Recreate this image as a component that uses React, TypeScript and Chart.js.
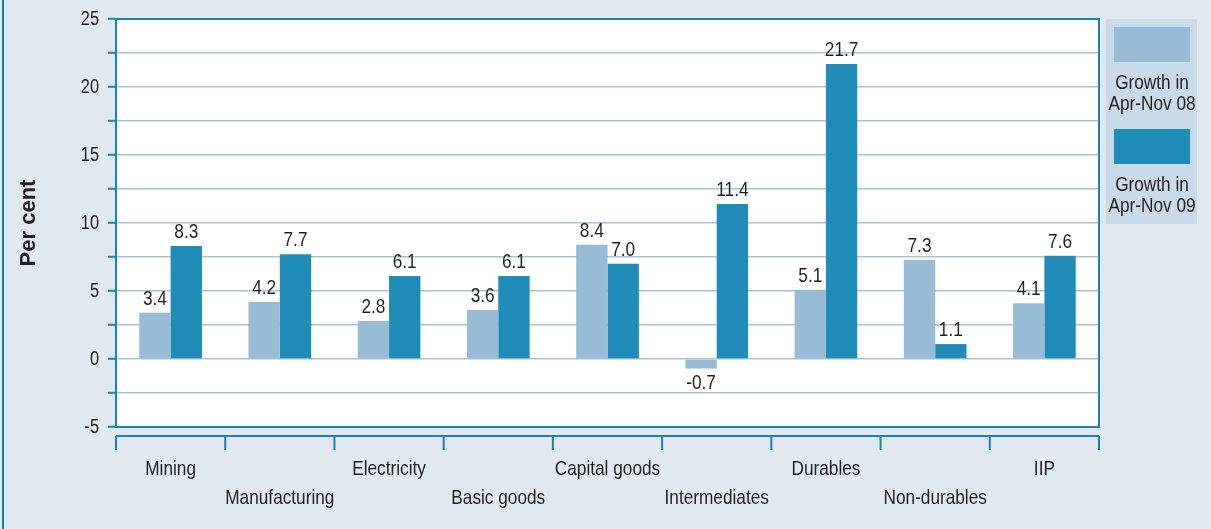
import React, { useEffect, useRef } from "react";
import { Chart, registerables } from "chart.js";

Chart.register(...registerables);

const categories = [
  "Mining",
  "Manufacturing",
  "Electricity",
  "Basic goods",
  "Capital goods",
  "Intermediates",
  "Durables",
  "Non-durables",
  "IIP",
];
const growth08 = [3.4, 4.2, 2.8, 3.6, 8.4, -0.7, 5.1, 7.3, 4.1];
const growth09 = [8.3, 7.7, 6.1, 6.1, 7.0, 11.4, 21.7, 1.1, 7.6];
const series08Label = ["Growth in", "Apr-Nov 08"];
const series09Label = ["Growth in", "Apr-Nov 09"];
const yAxisTitle = "Per cent";

const FONT = "'Liberation Sans', Arial, Helvetica, sans-serif";
const SQUEEZE = 0.82;
const BG = "#e0e8f0";
const LIGHT = "#98bbd6";
const DARK = "#208db8";
const AXIS = "#1b82b2";
const GRID = "#a6c3da";
const TEXT = "#231f20";

function narrowText(
  ctx: CanvasRenderingContext2D,
  txt: string,
  x: number,
  y: number,
  size: number,
  align: CanvasTextAlign,
  baseline: CanvasTextBaseline
) {
  ctx.save();
  ctx.translate(x, y);
  ctx.scale(SQUEEZE, 1);
  ctx.font = `${size}px ${FONT}`;
  ctx.textAlign = align;
  ctx.textBaseline = baseline;
  ctx.fillStyle = TEXT;
  ctx.fillText(txt, 0, 0);
  ctx.restore();
}

const decorPlugin = {
  id: "decor",
  beforeDraw(chart: any) {
    const { ctx, chartArea } = chart;
    ctx.save();
    ctx.fillStyle = BG;
    ctx.fillRect(0, 0, chart.width, chart.height);
    ctx.fillStyle = "#ffffff";
    ctx.fillRect(chartArea.left, chartArea.top, chartArea.right - chartArea.left, chartArea.bottom - chartArea.top);
    ctx.fillStyle = AXIS;
    ctx.fillRect(2, 0, 2, chart.height);
    ctx.restore();
  },
  afterDatasetsDraw(chart: any) {
    const { ctx, chartArea } = chart;
    ctx.save();
    // data labels
    chart.data.datasets.forEach((ds: any, di: number) => {
      const meta = chart.getDatasetMeta(di);
      meta.data.forEach((el: any, i: number) => {
        const v = ds.data[i];
        const txt = v.toFixed(1);
        if (v >= 0) narrowText(ctx, txt, el.x, el.y - 8, 21, "center", "alphabetic");
        else narrowText(ctx, txt, el.x, el.y + 20, 21, "center", "alphabetic");
      });
    });
    // plot border
    ctx.strokeStyle = AXIS;
    ctx.lineWidth = 2;
    ctx.strokeRect(chartArea.left, chartArea.top, chartArea.right - chartArea.left, chartArea.bottom - chartArea.top);

    // y tick labels
    const ys = chart.scales.y;
    ys.ticks.forEach((t: any) => {
      if (t.value % 5 === 0) {
        narrowText(ctx, String(t.value), chartArea.left - 17, ys.getPixelForValue(t.value), 20, "right", "middle");
      }
    });

    // offset x axis line + boundary ticks
    const xs = chart.scales.x;
    const axisY = chartArea.bottom + 9;
    ctx.strokeStyle = AXIS;
    ctx.lineWidth = 2;
    ctx.beginPath();
    ctx.moveTo(chartArea.left, axisY);
    ctx.lineTo(chartArea.right, axisY);
    const n = chart.data.labels.length;
    const step = xs.getPixelForValue(1) - xs.getPixelForValue(0);
    for (let i = 0; i <= n; i++) {
      const px = xs.getPixelForValue(0) - step / 2 + i * step;
      ctx.moveTo(px, axisY);
      ctx.lineTo(px, axisY + 14);
    }
    ctx.stroke();

    // x category labels (staggered)
    chart.data.labels.forEach((lab: string, i: number) => {
      const px = xs.getPixelForValue(i);
      const py = i % 2 === 0 ? chartArea.bottom + 48 : chartArea.bottom + 77;
      narrowText(ctx, lab, px, py, 21, "center", "alphabetic");
    });

    // y axis title
    ctx.save();
    ctx.translate(29, (chartArea.top + chartArea.bottom) / 2);
    ctx.rotate(-Math.PI / 2);
    ctx.font = `bold 22px ${FONT}`;
    ctx.textAlign = "center";
    ctx.textBaseline = "middle";
    ctx.fillStyle = TEXT;
    ctx.fillText(yAxisTitle, 0, 0);
    ctx.restore();

    // legend
    const lx = chartArea.right + 7;
    const ly = chartArea.top;
    ctx.fillStyle = "#c9dae8";
    ctx.fillRect(lx, ly, 91, 205);
    const items = [
      { color: LIGHT, lines: series08Label },
      { color: DARK, lines: series09Label },
    ];
    items.forEach((it, k) => {
      const top = ly + 8 + k * 102;
      ctx.fillStyle = it.color;
      ctx.fillRect(lx + 8, top, 76, 35);
      it.lines.forEach((ln, j) => {
        narrowText(ctx, ln, lx + 46, top + 62 + j * 21, 21, "center", "alphabetic");
      });
    });
    ctx.restore();
  },
};

export default function App() {
  const ref = useRef<HTMLCanvasElement>(null);
  useEffect(() => {
    if (!ref.current) return;
    const chart = new Chart(ref.current, {
      type: "bar",
      data: {
        labels: categories,
        datasets: [
          { label: series08Label.join(" "), data: growth08, backgroundColor: LIGHT, borderWidth: 0 },
          { label: series09Label.join(" "), data: growth09, backgroundColor: DARK, borderWidth: 0 },
        ],
      },
      options: {
        responsive: false,
        animation: false,
        devicePixelRatio: 1,
        layout: { padding: { left: 0, top: 19, right: 112, bottom: 0 } },
        datasets: { bar: { categoryPercentage: 0.574, barPercentage: 1.0 } },
        plugins: { legend: { display: false }, tooltip: { enabled: false } },
        scales: {
          x: {
            offset: true,
            grid: { display: false, drawTicks: false },
            border: { display: false },
            ticks: { display: false, autoSkip: false },
            afterFit: (s: any) => {
              s.height = 102;
            },
          },
          y: {
            min: -5,
            max: 25,
            grid: { color: GRID, lineWidth: 1.5, tickColor: AXIS, tickLength: 8, tickWidth: 2 },
            border: { display: true, color: AXIS, width: 2 },
            ticks: { display: false, stepSize: 2.5 },
            afterFit: (s: any) => {
              s.width = 116;
            },
          },
        },
      },
      plugins: [decorPlugin],
    });
    return () => chart.destroy();
  }, []);
  return (
    <div style={{ position: "absolute", left: 0, top: 0, width: 1211, height: 529, background: BG }}>
      <canvas ref={ref} width={1211} height={529} style={{ display: "block" }} />
    </div>
  );
}
